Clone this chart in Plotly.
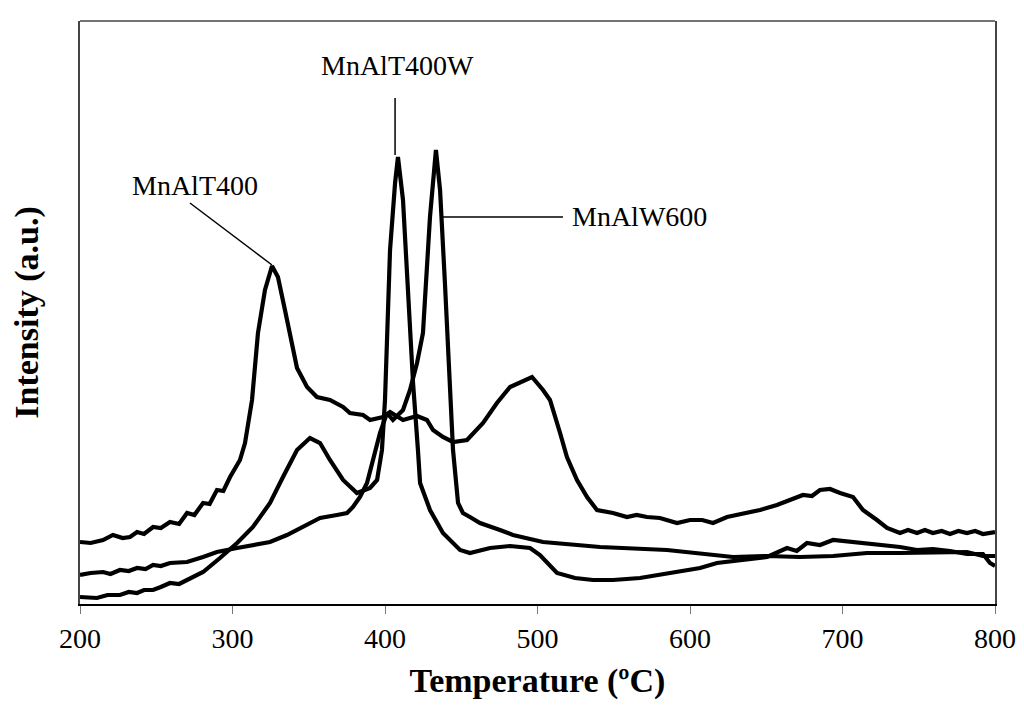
import plotly.graph_objects as go

# Temperature (°C) and intensity (a.u.)
t_t400 = [200, 207, 215.1, 221.6, 228, 232.8, 237.4, 242, 247.9, 253, 259.0, 265, 270.2, 275, 280.7, 285,
          289.8, 294, 298.4, 304.9, 308.2, 312.8, 316.7, 321.3, 325.9, 329.8, 334.4, 339.0, 342.3, 348.9,
          355.4, 363.9, 372.5, 377.0, 385.6, 390.2, 398.7, 403.3, 411.8, 421.0, 427.5, 431.5, 438.0, 444.6,
          451.1, 453.8, 464.3, 473.4, 482.0, 488.5, 496.4, 503.6, 508.2, 514.8, 519.3, 525.9, 532.5, 539.0,
          549.5, 558.7, 565, 571.8, 580.3, 591.5, 600.0, 608, 615.1, 624.3, 637.4, 645.9, 657.0, 665.6,
          674.1, 680, 685.2, 691.8, 698.4, 706.9, 713.4, 722.6, 729.2, 737.7, 743, 748.9, 754, 759.3, 765,
          770.5, 776, 781.6, 787, 792.1, 800]
i_t400 = [62, 61, 64, 69, 66, 67, 72, 70, 77, 76, 82, 80, 91, 89, 101, 100,
          114, 113, 127, 144, 161, 204, 271, 314, 338, 327, 294, 261, 236, 217,
          207, 204, 197, 191, 189, 184, 187, 192, 184, 188, 184, 174, 167, 162,
          164, 164, 181, 201, 217, 222, 227, 214, 204, 171, 147, 124, 107, 94,
          91, 87, 89, 87, 86, 81, 84, 84, 81, 87, 91, 94, 99, 104,
          109, 108, 114, 115, 111, 107, 94, 84, 76, 71, 74, 71, 74, 71, 73,
          70, 73, 71, 73, 70, 72]

t_t400w = [200, 211.1, 218, 226.2, 232, 237.4, 242, 247.9, 253, 259.0, 265, 270.2, 280.7, 291.8, 303.0,
           313.4, 324.6, 333.1, 342.3, 350.8, 357.4, 363.9, 372.5, 381.6, 390.2, 394.8, 398.0, 400.0,
           403.3, 406.6, 408.5, 411.8, 415.1, 418.4, 421.6, 423.0, 429.5, 438.0, 449.2, 455.7, 468.9,
           482.0, 495.1, 501.6, 512.8, 524.6, 536.4, 549.5, 567.2, 588.9, 606.6, 617.7, 632.8, 650.5,
           663.6, 670, 676.7, 685.2, 693.8, 704.9, 716.1, 726.6, 737.7, 748.9, 759.3, 770.5, 781.6,
           792.1, 796.7, 800]
i_t400w = [7, 6, 9, 9, 12, 11, 14, 14, 17, 21, 20, 24, 32, 46, 61,
           77, 101, 127, 154, 166, 161, 144, 124, 111, 116, 124, 154, 204,
           354, 421, 447, 404, 304, 221, 154, 121, 94, 71, 54, 51, 56,
           58, 56, 49, 31, 26, 24, 24, 26, 31, 36, 41, 44, 47,
           56, 53, 61, 59, 64, 62, 61, 59, 57, 54, 55, 53, 50,
           50, 41, 38]

t_w600 = [200, 207, 215.1, 220, 226.2, 232, 237.4, 243, 247.9, 253, 259.0, 270.2, 280.7, 289.8, 303.0,
          313.4, 324.6, 335.7, 346.2, 357.4, 368.5, 375.1, 379.0, 383.6, 388.2, 392.1, 396.7, 401.3,
          405.2, 411.8, 416.4, 421.0, 424.9, 426.2, 429.5, 433.4, 436.1, 439.3, 442.6, 444.6, 447.9,
          451.1, 455.7, 462.3, 475.4, 483.9, 503.6, 541.0, 584.9, 606.6, 628.2, 650.5, 672.1, 693.8,
          716.1, 737.7, 759.3, 781.6, 792.1, 800]
i_w600 = [29, 31, 32, 30, 34, 33, 36, 35, 39, 38, 41, 42, 47, 52, 56,
          59, 62, 69, 77, 86, 89, 91, 97, 107, 121, 144, 171, 191,
          184, 194, 214, 241, 271, 304, 387, 454, 414, 321, 221, 154, 101,
          91, 87, 81, 74, 69, 62, 57, 54, 51, 47, 48, 47, 48,
          51, 51, 51, 52, 48, 48]

labels = ["MnAlT400", "MnAlT400W", "MnAlW600"]

FONT = "Liberation Serif, Times New Roman, serif"
line_style = dict(color="black", width=4.2)

fig = go.Figure()
fig.add_trace(go.Scatter(x=t_t400, y=i_t400, mode="lines", line=line_style, name=labels[0]))
fig.add_trace(go.Scatter(x=t_t400w, y=i_t400w, mode="lines", line=line_style, name=labels[1]))
fig.add_trace(go.Scatter(x=t_w600, y=i_w600, mode="lines", line=line_style, name=labels[2]))

# label texts
fig.add_annotation(x=275.4, y=419, text=labels[0], showarrow=False,
                   font=dict(family=FONT, size=28, color="black"))
fig.add_annotation(x=408.5, y=539, text=labels[1], showarrow=False,
                   font=dict(family=FONT, size=28, color="black"))
fig.add_annotation(x=521.3, y=388, text=labels[2], showarrow=False, xanchor="left",
                   font=dict(family=FONT, size=28, color="black"))

# leader lines
leader = dict(color="black", width=1.5)
fig.add_shape(type="line", x0=272.1, y0=401, x1=325.9, y1=339, line=leader)
fig.add_shape(type="line", x0=406.6, y0=506, x1=406.6, y1=449, line=leader)
fig.add_shape(type="line", x0=438.0, y0=387, x1=516.7, y1=387, line=leader)
# top frame line
fig.add_shape(type="line", xref="paper", yref="paper", x0=0, x1=1, y0=1, y1=1,
              line=dict(color="#444444", width=1.5))

fig.update_layout(
    width=1016, height=707,
    margin=dict(l=72, r=29, t=13, b=111),
    paper_bgcolor="white", plot_bgcolor="white",
    showlegend=False,
    font=dict(family=FONT, color="black"),
)
fig.update_xaxes(
    automargin=False,
    range=[200, 800], tickvals=[200, 300, 400, 500, 600, 700, 800],
    ticks="outside", ticklen=8, tickcolor="#777777", tickwidth=1,
    tickfont=dict(family=FONT, size=28, color="black"),
    showline=True, linecolor="black", linewidth=2, mirror=False,
    showgrid=False, zeroline=False,
    title=dict(text="<b>Temperature (ºC)</b>", font=dict(family=FONT, size=34, color="black"), standoff=16),
)
fig.update_yaxes(
    automargin=False,
    range=[0, 583], showticklabels=False, ticks="",
    showline=True, linecolor="#444444", linewidth=1.5, mirror=True,
    showgrid=False, zeroline=False,
    title=dict(text="<b>Intensity (a.u.)</b>", font=dict(family=FONT, size=34, color="black"), standoff=30),
)

fig.write_html("out.html")
